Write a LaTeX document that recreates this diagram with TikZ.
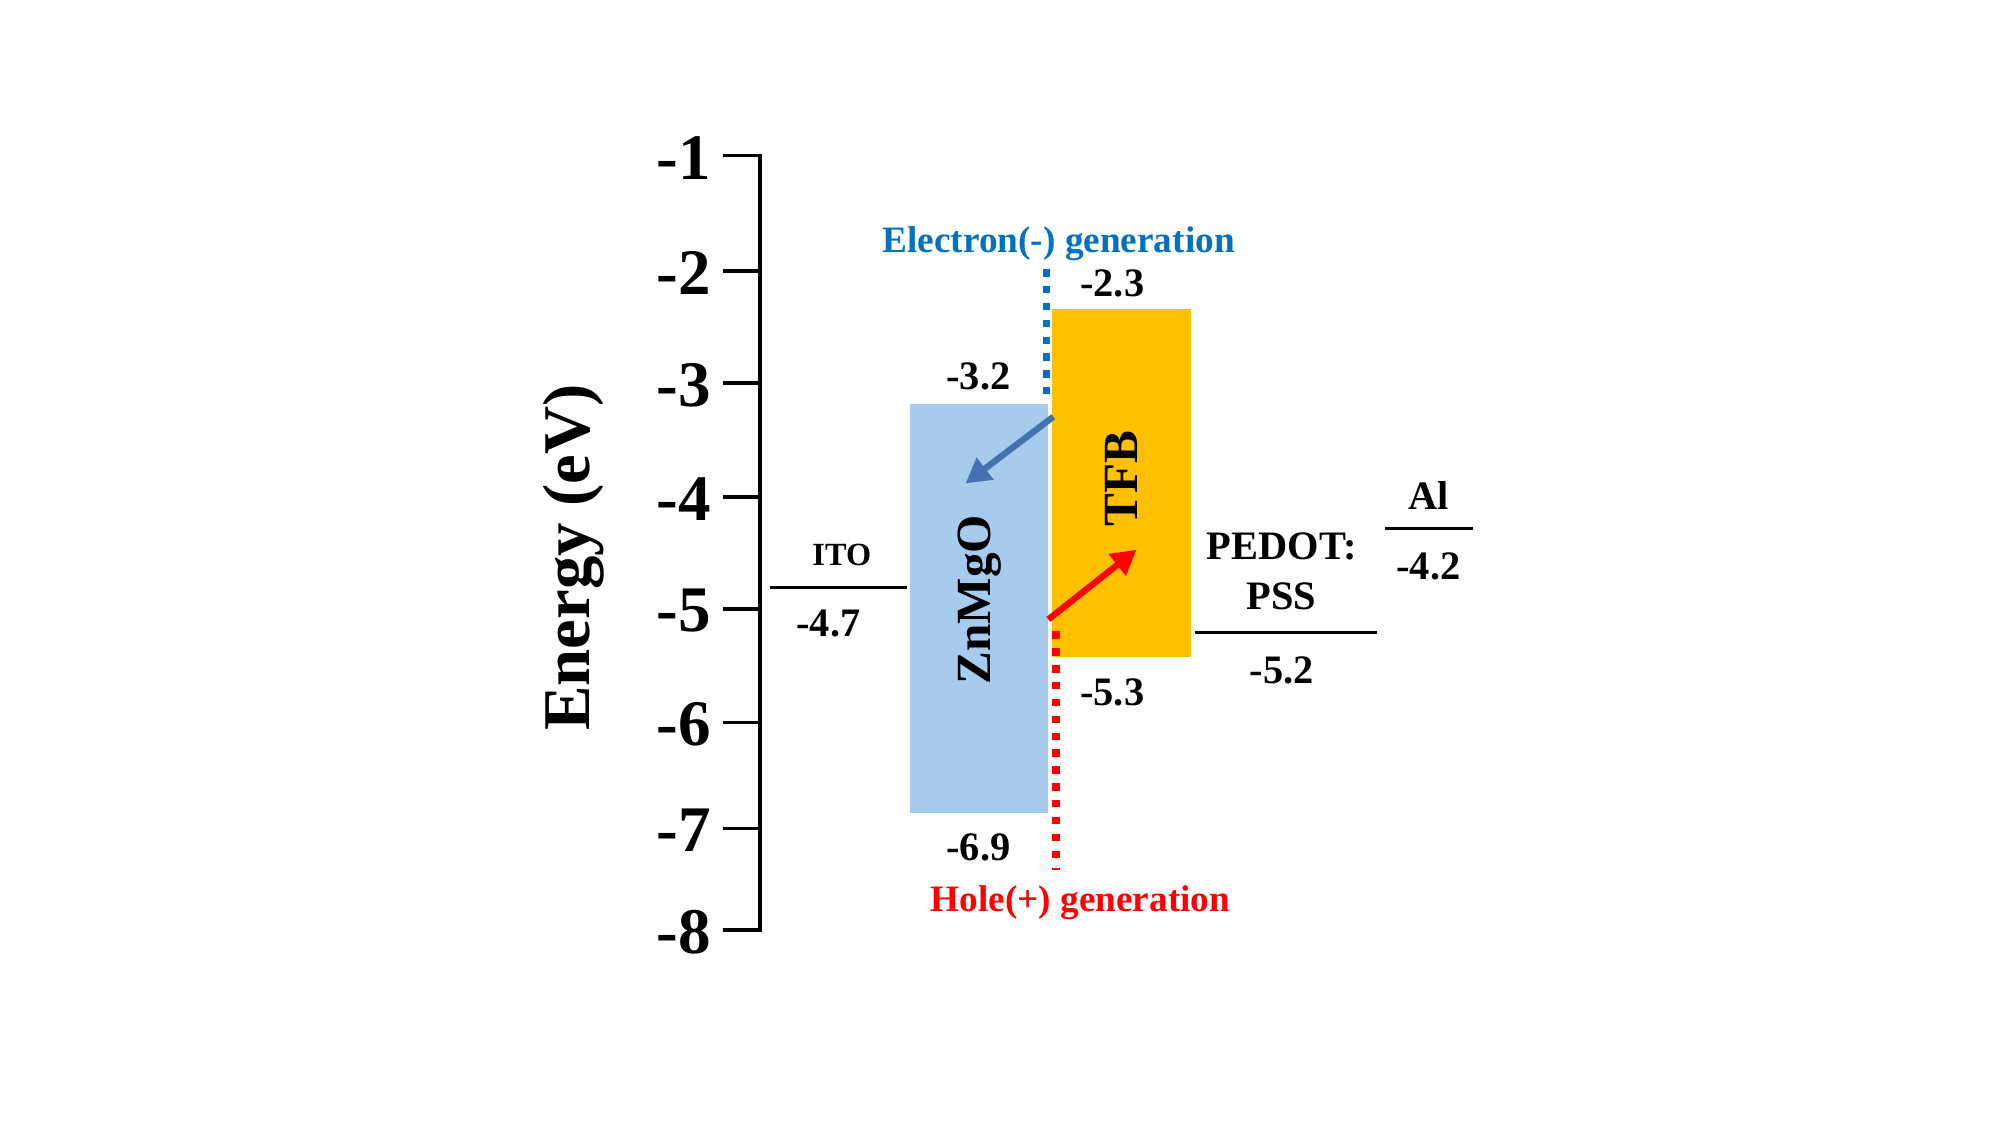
\documentclass[tikz,border=0pt]{standalone}
\usepackage{fontspec}
\setmainfont{Liberation Serif}
\usetikzlibrary{arrows.meta}
\definecolor{zmgblue}{RGB}{166,203,236}
\definecolor{tfbgold}{RGB}{255,192,0}
\definecolor{egen}{RGB}{0,112,192}
\definecolor{earrow}{RGB}{68,114,176}
\definecolor{hred}{RGB}{255,0,0}
\begin{document}
\begin{tikzpicture}[x=0.012755cm,y=-0.012755cm,
  ticklab/.style={font=\fontsize{18.5}{18.5}\selectfont\bfseries, anchor=east, inner sep=0pt},
  val/.style={font=\fontsize{11.5}{12}\selectfont\bfseries, inner sep=0pt},
  gen/.style={font=\fontsize{10.6}{12}\selectfont\bfseries, inner sep=0pt},
  boxlab/.style={font=\fontsize{14}{14}\selectfont\bfseries, inner sep=0pt, rotate=90},
  lvl/.style={line width=0.8pt},
  axisline/.style={line width=1pt},
  dots/.style={line width=2.1pt, dash pattern=on 2.1pt off 2.7pt},
  carrier/.style={line width=1.8pt, -{Triangle[length=7pt,width=7.5pt]}}]
\useasboundingbox (0,0) rectangle (1568,881);
% axis
\draw[axisline] (567,122) -- (596,122) -- (596,729) -- (567,729);
\foreach \yy in {212.4,300.3,389.8,477.3,566.4,649.6}{\draw[axisline] (567,\yy) -- (596,\yy);}
\node[ticklab] (t1) at (558,124) {-1};
\node[ticklab] (t2) at (558,214) {-2};
\node[ticklab] (t3) at (558,302) {-3};
\node[ticklab] (t4) at (558,391) {-4};
\node[ticklab] (t5) at (558,479) {-5};
\node[ticklab] (t6) at (558,568) {-6};
\node[ticklab] (t7) at (558,651) {-7};
\node[ticklab] (t8) at (558,731) {-8};
\node[font=\fontsize{19}{19}\selectfont\bfseries, rotate=90, inner sep=0pt] (ylab) at (450,437) {Energy (eV)};
% boxes
\fill[zmgblue] (713.5,316.7) rectangle (821.7,637.2);
\fill[tfbgold] (824.5,242.3) rectangle (933.5,514.8);
\node[boxlab] (zmg) at (768,470) {ZnMgO};
\node[boxlab] (tfb) at (879,375) {TFB};
% values
\node[val] (v23) at (872,222) {-2.3};
\node[val] (v32) at (767,295) {-3.2};
\node[val] (v53) at (872,543) {-5.3};
\node[val] (v69) at (767,664) {-6.9};
% ITO
\draw[lvl] (603.7,460.5) -- (710.9,460.5);
\node[font=\fontsize{9.2}{10}\selectfont\bfseries, inner sep=0pt] (ito) at (660,435) {ITO};
\node[val] (v47) at (649.4,488.7) {-4.7};
% PEDOT:PSS
\draw[lvl] (936.9,496) -- (1079.3,496);
\node[val] (ped1) at (1004.8,428) {PEDOT:};
\node[val] (ped2) at (1004.8,467.3) {PSS};
\node[val] (v52) at (1004.8,525.3) {-5.2};
% Al
\draw[lvl] (1085.9,414.2) -- (1154.6,414.2);
\node[val] (al) at (1119.8,388.1) {Al};
\node[val] (v42) at (1119.8,444.3) {-4.2};
% generation
\node[gen, text=egen] (egenlab) at (830,191) {Electron(-) generation};
\node[gen, text=hred] (hgenlab) at (847,708) {Hole(+) generation};
\coordinate (ed1) at (820.6,211);
\coordinate (ed2) at (820.6,309);
\coordinate (hd1) at (828,495);
\coordinate (hd2) at (828,682);
\draw[dots, egen] (ed1) -- (ed2);
\draw[dots, hred] (hd1) -- (hd2);
% arrows
\coordinate (ea1) at (825.8,326.7);
\coordinate (ea2) at (757,379);
\coordinate (ha1) at (821.9,485.6);
\coordinate (ha2) at (891,431);
\draw[carrier, earrow] (ea1) -- (ea2);
\draw[carrier, hred] (ha1) -- (ha2);
\end{tikzpicture}
\end{document}
